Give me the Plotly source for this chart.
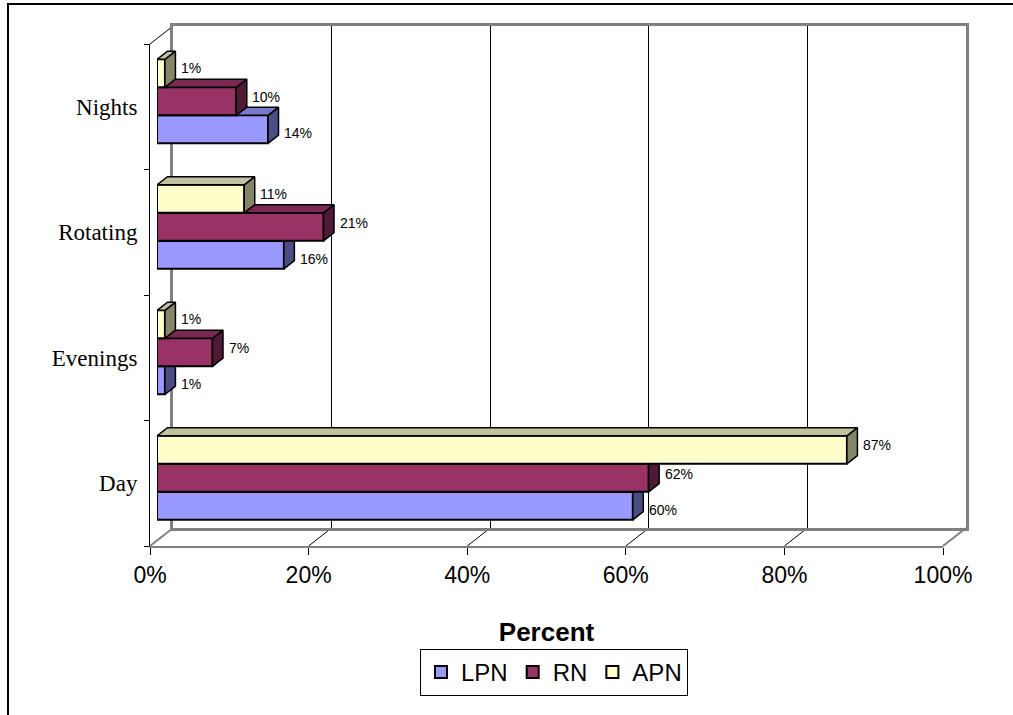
import plotly.graph_objects as go

# ---- data -------------------------------------------------------------
shifts = ["Day", "Evenings", "Rotating", "Nights"]
lpn = [60, 1, 16, 14]
rn = [62, 7, 21, 10]
apn = [87, 1, 11, 1]
tick_pcts = [0, 20, 40, 60, 80, 100]

series = [
    # name, values, front, side, top, bar offset, label y-shift
    ("LPN", lpn, "#9999FF", "#4D4D85", "#7A7ACC", -0.335, -4),
    ("RN", rn, "#993366", "#4F1A35", "#7A2952", -0.112, 4),
    ("APN", apn, "#FFFFCC", "#85856A", "#C2C2A0", 0.111, 5),
]

# ---- page geometry (pixels) ------------------------------------------
W, H = 1013, 715
FX0, FX1 = 150, 943      # front plane: 0% .. 100%
FYB, FYT = 546, 44       # front plane: bottom / top of category band
DX, DY = 23, -18         # full depth offset of the box
BAR_Z = 7 / 23           # depth of bar front faces
BAR_DEPTH_PX = (10.5, 8.2)


def px(x):
    return x / W


def py(y):
    return 1 - y / H


def plane(z):
    return (FX0 + DX * z, FX1 + DX * z, FYB + DY * z, FYT + DY * z)


bx0, bx1, byb, byt = plane(1.0)        # back wall
cx0, cx1, cyb, cyt = plane(BAR_Z)      # bar plane

fig = go.Figure()

# empty traces so the wall and front-axis subplots get rendered
for xa, ya in (("x", "y"), ("x2", "y2")):
    fig.add_trace(go.Scatter(x=[None], y=[None], xaxis=xa, yaxis=ya,
                             mode="markers", showlegend=False,
                             hoverinfo="skip"))

# ---- bars and their 3-D faces, one overlaid subplot per series -------
unit_x = (FX1 - FX0) / 100.0
unit_y = (FYB - FYT) / 4.0
ddx = BAR_DEPTH_PX[0] / unit_x
ddy = BAR_DEPTH_PX[1] / unit_y
bar_w = 0.223
cats = list(range(len(shifts)))

for i, (name, vals, c_front, c_side, c_top, off, lshift) in enumerate(series):
    xa, ya = f"x{3 + i}", f"y{3 + i}"
    fig.add_trace(go.Bar(
        name=name, orientation="h", x=vals, y=cats, base=0,
        width=bar_w, offset=off, xaxis=xa, yaxis=ya,
        marker=dict(color=c_front, line=dict(color="black", width=2)),
        hovertemplate="%{x}%<extra>" + name + "</extra>",
    ))
    sx, sy, tx, ty = [], [], [], []
    for c, v in zip(cats, vals):
        y0 = c + off
        y1 = y0 + bar_w
        sx += [v, v + ddx, v + ddx, v, v, None]
        sy += [y0, y0 + ddy, y1 + ddy, y1, y0, None]
        tx += [0, ddx, v + ddx, v, 0, None]
        ty += [y1, y1 + ddy, y1 + ddy, y1, y1, None]
    for fx, fy, col in ((sx, sy, c_side), (tx, ty, c_top)):
        fig.add_trace(go.Scatter(
            x=fx, y=fy, mode="lines", fill="toself", fillcolor=col,
            line=dict(color="black", width=1.5), xaxis=xa, yaxis=ya,
            showlegend=False, hoverinfo="skip",
        ))
    for c, v in zip(cats, vals):
        fig.add_annotation(
            x=v, y=c + off + bar_w / 2, xref="x3", yref="y3",
            text=f"{v}%", showarrow=False, xanchor="left",
            xshift=14, yshift=lshift,
            font=dict(family="Liberation Sans", size=14, color="black"),
        )

# ---- axes --------------------------------------------------------------
hidden = dict(visible=False, showgrid=False, zeroline=False, fixedrange=True)
layout_axes = dict(
    # back wall with its gridlines
    xaxis=dict(domain=[px(bx0), px(bx1)], range=[0, 100], anchor="y",
               tickvals=tick_pcts, showgrid=True, gridcolor="black",
               gridwidth=1, showticklabels=False, ticks="", zeroline=False,
               showline=True, mirror=True, linecolor="#808080",
               linewidth=3, automargin=False),
    yaxis=dict(domain=[py(byb), py(byt)], range=[-0.5, 3.5], anchor="x",
               showgrid=False, showticklabels=False, ticks="",
               zeroline=False, showline=True, mirror=True,
               linecolor="#808080", linewidth=3, automargin=False),
    # front plane: percent axis and category labels
    xaxis2=dict(domain=[px(FX0), px(FX1)], range=[0, 100], anchor="y2",
                tickmode="array", tickvals=tick_pcts,
                ticktext=[f"{t}%" for t in tick_pcts],
                ticks="outside", ticklen=7, tickcolor="black", tickwidth=1,
                showgrid=False, zeroline=False, showline=True,
                linecolor="#808080", linewidth=2, automargin=False,
                tickfont=dict(family="Liberation Sans", size=23,
                              color="black"),
                title=dict(text="<b>Percent</b>", standoff=36,
                           font=dict(family="Liberation Sans", size=26,
                                     color="black"))),
    yaxis2=dict(domain=[py(FYB), py(FYT)], range=[-0.5, 3.5], anchor="x2",
                tickmode="array", tickvals=cats, ticktext=shifts, ticks="",
                showgrid=False, zeroline=False, showline=True,
                linecolor="black", linewidth=1, ticklabelstandoff=7,
                automargin=False,
                tickfont=dict(family="Liberation Serif", size=23,
                              color="black"),
                minor=dict(tickvals=[-0.5, 0.5, 1.5, 2.5, 3.5],
                           ticks="outside", ticklen=5, tickcolor="black",
                           tickwidth=1, showgrid=False)),
    xaxis3=dict(domain=[px(cx0), px(cx1)], range=[0, 100], anchor="y3",
                **hidden),
    yaxis3=dict(domain=[py(cyb), py(cyt)], range=[-0.5, 3.5], anchor="x3",
                **hidden),
)
for k in (4, 5):
    layout_axes[f"xaxis{k}"] = dict(overlaying="x3", matches="x3",
                                    anchor=f"y{k}", **hidden)
    layout_axes[f"yaxis{k}"] = dict(overlaying="y3", matches="y3",
                                    anchor=f"x{k}", **hidden)

# ---- box edges: left wall and floor -----------------------------------
shapes = []


def seg(x0, y0, x1, y1, color, width):
    shapes.append(dict(type="line", xref="paper", yref="paper",
                       x0=px(x0), y0=py(y0), x1=px(x1), y1=py(y1),
                       line=dict(color=color, width=width), layer="below"))


seg(FX0, FYT, bx0, byt, "black", 1)
seg(FX0, FYB, bx0, byb, "#808080", 2)
seg(FX1, FYB, bx1, byb, "#808080", 2)
for t in tick_pcts[1:-1]:
    fxp = FX0 + unit_x * t
    seg(fxp, FYB, fxp + DX, FYB + DY, "black", 1)

# outer chart frame
shapes.append(dict(type="rect", xref="paper", yref="paper",
                   x0=px(8), y0=-0.02, x1=1.02, y1=py(4),
                   line=dict(color="black", width=2), layer="below"))

fig.update_layout(
    width=W, height=H,
    margin=dict(l=0, r=0, t=0, b=0, pad=0, autoexpand=False),
    paper_bgcolor="white", plot_bgcolor="rgba(0,0,0,0)",
    barmode="overlay",
    showlegend=True,
    legend=dict(orientation="h", x=px(554), xanchor="center",
                y=py(649), yanchor="top", bordercolor="black",
                borderwidth=1, bgcolor="white", itemwidth=30,
                traceorder="normal",
                font=dict(family="Liberation Sans", size=24,
                          color="black")),
    shapes=shapes,
    **layout_axes,
)

fig.write_html("out.html")
